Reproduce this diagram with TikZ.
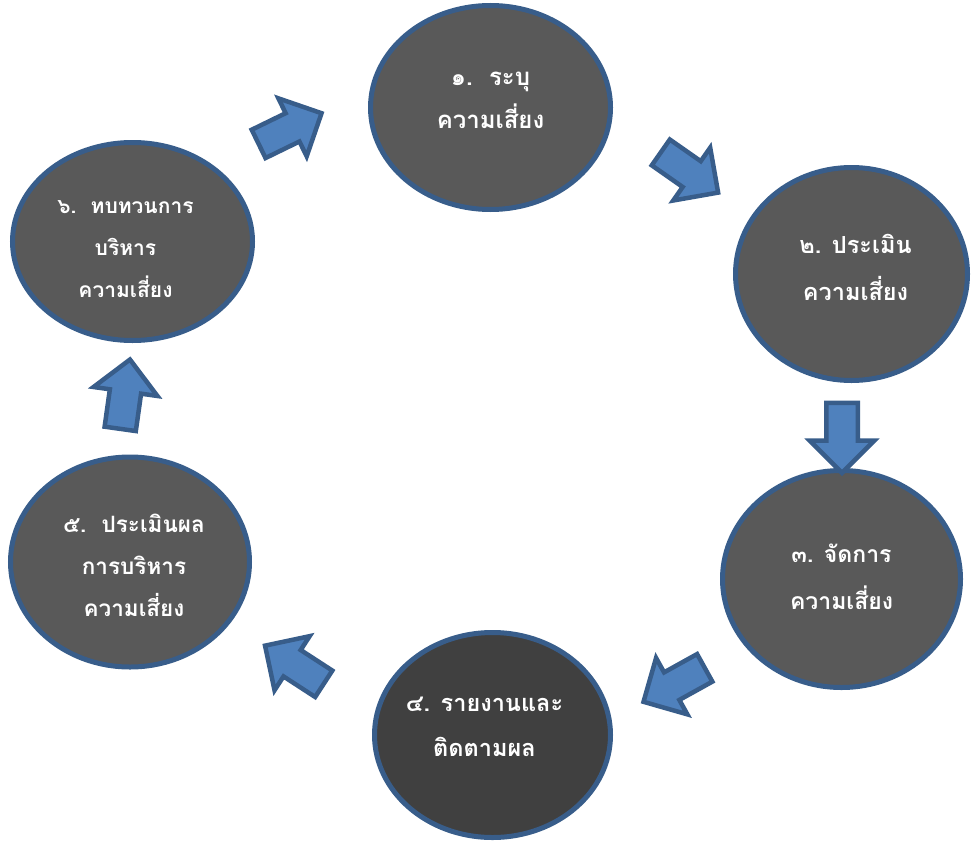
\documentclass[tikz,border=0pt]{standalone}
\usepackage{fontspec}
\newfontfamily\thaifont[Script=Thai]{Loma}
\usetikzlibrary{shapes.geometric,shapes.arrows}

\definecolor{stepfill}{HTML}{595959}
\definecolor{stepdark}{HTML}{404040}
\definecolor{stepline}{HTML}{385D8A}
\definecolor{arrowfill}{HTML}{4F81BD}

\tikzset{
  stepoval/.style={ellipse, draw=stepline, line width=5pt, fill=stepfill, inner sep=0pt},
  steptext/.style 2 args={text=white, align=center, inner sep=0pt,
    font=\thaifont\bfseries\fontsize{#1}{#2}\selectfont},
  flowarrow/.style={single arrow, draw=stepline, line width=4.5pt, fill=arrowfill,
    minimum height=70pt, inner xsep=0pt, inner ysep=13.5pt,
    single arrow head extend=16.5pt, line join=miter}
}

\begin{document}
\begin{tikzpicture}[x=1pt, y=-1pt]
            \useasboundingbox (0,0) rectangle (971,843);
            % steps
            \node[stepoval, minimum width=240pt, minimum height=204pt] (s1) at (490.5,107.5) {};
            \node[stepoval, minimum width=232pt, minimum height=213pt] (s2) at (851.5,274) {};
            \node[stepoval, minimum width=238pt, minimum height=217pt] (s3) at (841.5,579) {};
            \node[stepoval, fill=stepdark, minimum width=236pt, minimum height=205pt] (s4) at (492.5,735) {};
            \node[stepoval, minimum width=239pt, minimum height=210pt] (s5) at (130,562) {};
            \node[stepoval, minimum width=240pt, minimum height=198pt] (s6) at (132.5,241.5) {};
            % labels
            \node[steptext={24}{43}] (t1) at ([yshift=7.5pt]s1.center) {๑.\ \ ระบุ\\ความเสี่ยง};
            \node[steptext={23.5}{47}] (t2) at ([xshift=4pt,yshift=6.5pt]s2.center) {๒. ประเมิน\\ความเสี่ยง};
            \node[steptext={23}{47}] (t3) at ([yshift=2.5pt]s3.center) {๓. จัดการ\\ความเสี่ยง};
            \node[steptext={23.5}{45}] (t4) at ([xshift=-8pt,yshift=8pt]s4.center) {๔. รายงานและ\\ติดตามผล};
            \node[steptext={22.5}{42}] (t5) at ([xshift=4pt,yshift=-3pt]s5.center) {๕.\ \ ประเมินผล\\การบริหาร\\ความเสี่ยง};
            \node[steptext={21}{42}] (t6) at ([xshift=-7pt,yshift=-8pt]s6.center) {๖.\ \ ทบทวนการ\\บริหาร\\ความเสี่ยง};
            % arrows
            \node[flowarrow, rotate=26] (a1) at (283,132) {};
            \node[flowarrow, rotate=-35] (a2) at (683,168) {};
            \node[flowarrow, rotate=-90] (a3) at (842,430) {};
            \node[flowarrow, rotate=209] (a4) at (681,681) {};
            \node[flowarrow, rotate=147] (a5) at (301,669) {};
            \node[flowarrow, rotate=82] (a6) at (124,402) {};
        \end{tikzpicture}
\end{document}
